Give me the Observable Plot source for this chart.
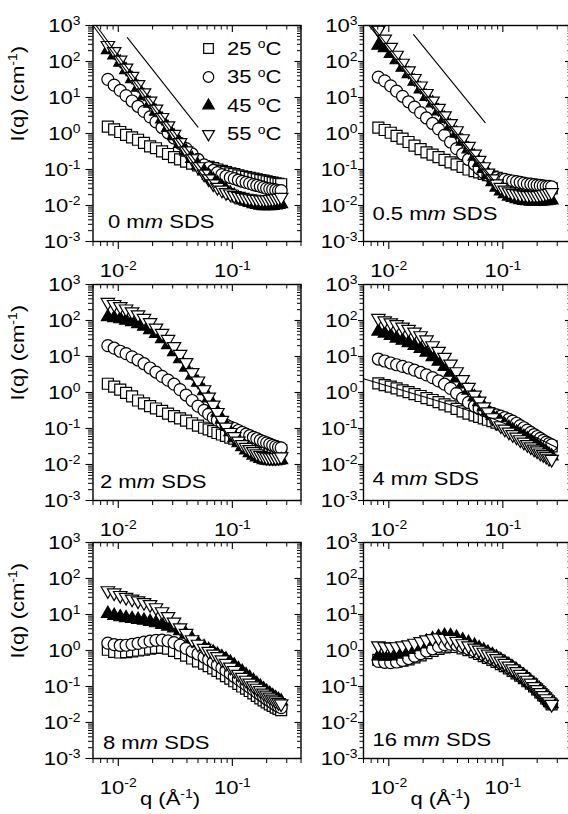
<!DOCTYPE html>
<html><head><meta charset="utf-8">
<script src="https://cdn.jsdelivr.net/npm/d3@7"></script>
<script src="https://cdn.jsdelivr.net/npm/@observablehq/plot@0.6"></script>
<style>
html,body{margin:0;padding:0;background:#fff;overflow:hidden;}
#fig{position:relative;width:568px;height:814px;overflow:hidden;background:#fff;}
</style></head><body><div id="fig"></div>
<script>
// ---------- data ----------
const q = [0.0081,0.0092,0.0104,0.0117,0.0132,0.0149,0.0168,0.019,0.0214,0.0242,0.0273,0.0308,0.0348,0.0393,0.0444,0.05,0.0565,0.062,0.068,0.074,0.081,0.088,0.096,0.104,0.113,0.122,0.132,0.142,0.153,0.164,0.176,0.188,0.2,0.213,0.226,0.24,0.254,0.268];

const seriesNames = ["25 ^{o}C", "35 ^{o}C", "45 ^{o}C", "55 ^{o}C"];
const panelLabels = ["0 m*m* SDS", "0.5 m*m* SDS", "2 m*m* SDS", "4 m*m* SDS", "8 m*m* SDS", "16 m*m* SDS"];

// 0 mM SDS
const I0_25 = [1.56,1.3,1.1,0.92,0.78,0.67,0.55,0.44,0.39,0.32,0.27,0.22,0.19,0.165,0.145,0.13,0.125,0.118,0.11,0.1,0.092,0.085,0.078,0.074,0.069,0.065,0.062,0.059,0.056,0.053,0.051,0.049,0.047,0.045,0.043,0.041,0.04,0.039];
const I0_35 = [32,22,15.7,11.3,8.0,5.7,4.1,2.9,2.1,1.47,1.05,0.75,0.53,0.38,0.27,0.19,0.135,0.112,0.094,0.082,0.072,0.065,0.06,0.056,0.051,0.047,0.044,0.041,0.038,0.036,0.034,0.032,0.03,0.029,0.028,0.027,0.026,0.026];
const I0_45 = [210,150,95,58,33,19,11,6.8,4.1,2.5,1.45,0.85,0.52,0.32,0.2,0.13,0.09,0.068,0.052,0.042,0.033,0.027,0.022,0.019,0.016,0.014,0.013,0.012,0.011,0.0105,0.01,0.0098,0.0097,0.0097,0.0099,0.0102,0.0106,0.011];
const I0_55 = [280,190,110,66,39,23,13.5,8,4.8,2.8,1.65,0.95,0.56,0.33,0.2,0.12,0.075,0.055,0.04,0.032,0.027,0.023,0.021,0.019,0.018,0.017,0.016,0.0155,0.015,0.0148,0.0145,0.0145,0.0145,0.0148,0.015,0.0155,0.016,0.017];
// 0.5 mM SDS
const I05_25 = [1.45,1.25,1.05,0.86,0.72,0.58,0.46,0.37,0.3,0.26,0.22,0.185,0.158,0.138,0.118,0.1,0.09,0.083,0.076,0.07,0.064,0.059,0.054,0.05,0.047,0.044,0.042,0.04,0.038,0.037,0.036,0.035,0.034,0.033,0.032,0.031,0.03,0.03];
const I05_35 = [37,29,21,15,10.8,7.6,5.4,3.8,2.7,1.9,1.35,0.9,0.58,0.38,0.27,0.19,0.14,0.105,0.082,0.07,0.063,0.059,0.055,0.053,0.05,0.048,0.046,0.044,0.042,0.04,0.039,0.038,0.037,0.036,0.035,0.034,0.034,0.033];
const I05_45 = [280,240,165,110,68,45,28,17,10.5,7,4.2,2.6,1.6,1.0,0.6,0.37,0.23,0.155,0.105,0.072,0.045,0.032,0.025,0.021,0.018,0.0165,0.0152,0.0143,0.0137,0.0133,0.013,0.013,0.013,0.013,0.0132,0.0135,0.0138,0.014];
const I05_55 = [750,420,250,150,90,55,34,21,13,8,5,3.1,1.9,1.2,0.72,0.44,0.27,0.18,0.12,0.08,0.055,0.04,0.032,0.027,0.024,0.022,0.021,0.02,0.0195,0.019,0.019,0.019,0.019,0.0195,0.02,0.021,0.022,0.023];
// 2 mM SDS
const I2_25 = [1.75,1.45,1.2,0.98,0.78,0.6,0.5,0.42,0.36,0.31,0.26,0.22,0.19,0.165,0.14,0.12,0.105,0.095,0.085,0.075,0.068,0.062,0.056,0.052,0.048,0.045,0.042,0.04,0.037,0.035,0.033,0.032,0.03,0.029,0.028,0.027,0.026,0.025];
const I2_35 = [20,17,14,12,9.8,8,6.3,4.8,3.7,2.8,2.2,1.7,1.2,0.85,0.6,0.42,0.32,0.25,0.2,0.17,0.145,0.125,0.11,0.1,0.088,0.078,0.07,0.063,0.057,0.052,0.047,0.043,0.04,0.037,0.034,0.032,0.03,0.029];
const I2_45 = [125,118,110,100,92,80,68,55,43,31,21,13.5,8.5,5,3,1.9,1.1,0.7,0.45,0.28,0.18,0.12,0.08,0.055,0.04,0.031,0.025,0.021,0.018,0.016,0.0145,0.0135,0.013,0.0125,0.0125,0.0125,0.013,0.0135];
const I2_55 = [320,280,245,210,175,145,115,88,62,44,30,19,11.5,6.8,3.6,2.1,1.2,0.75,0.45,0.28,0.17,0.11,0.078,0.06,0.045,0.036,0.03,0.026,0.023,0.02,0.018,0.017,0.016,0.0155,0.0155,0.0155,0.016,0.0165];
// 4 mM SDS
const I4_25 = [1.8,1.6,1.45,1.3,1.15,1.02,0.9,0.8,0.7,0.62,0.54,0.47,0.41,0.35,0.3,0.26,0.23,0.21,0.19,0.175,0.16,0.145,0.13,0.12,0.107,0.097,0.088,0.08,0.072,0.065,0.058,0.053,0.048,0.044,0.04,0.037,0.034,0.032];
const I4_35 = [8.5,7.5,6.6,5.9,5.3,4.8,4.2,3.6,3.1,2.6,2.1,1.7,1.3,0.95,0.7,0.53,0.42,0.36,0.32,0.29,0.26,0.24,0.22,0.2,0.18,0.16,0.14,0.12,0.105,0.09,0.078,0.068,0.06,0.053,0.047,0.042,0.038,0.035];
const I4_45 = [50,44,38,32,28,24,20,16.5,13,9.8,7.3,5.2,3.6,2.5,1.7,1.15,0.75,0.55,0.4,0.31,0.23,0.185,0.15,0.125,0.105,0.09,0.078,0.068,0.059,0.051,0.044,0.038,0.033,0.029,0.025,0.022,0.019,0.017];
const I4_55 = [115,98,87,77,66,57,48,38,29,20,14,9.5,6.2,3.8,2.3,1.4,0.85,0.58,0.4,0.29,0.2,0.15,0.12,0.097,0.08,0.068,0.058,0.049,0.042,0.036,0.031,0.027,0.024,0.021,0.019,0.017,0.015,0.014];
// 8 mM SDS
const I8_25 = [1.05,0.92,0.88,0.9,0.95,1.0,1.05,1.12,1.18,1.2,1.12,0.98,0.85,0.72,0.6,0.5,0.43,0.37,0.32,0.27,0.23,0.195,0.165,0.14,0.118,0.1,0.087,0.075,0.064,0.055,0.047,0.041,0.036,0.032,0.029,0.026,0.024,0.022];
const I8_35 = [1.6,1.45,1.38,1.4,1.48,1.58,1.7,1.82,1.92,1.95,1.85,1.65,1.4,1.15,0.95,0.8,0.66,0.56,0.47,0.4,0.33,0.28,0.23,0.19,0.16,0.135,0.113,0.096,0.082,0.07,0.06,0.052,0.045,0.04,0.035,0.031,0.028,0.026];
const I8_45 = [10.5,9.3,8.5,8,7.6,7.2,6.8,6.3,5.8,5.2,4.7,4.2,3.5,2.8,2.1,1.6,1.25,1.05,0.9,0.77,0.66,0.57,0.47,0.39,0.31,0.26,0.21,0.175,0.145,0.12,0.1,0.085,0.073,0.063,0.055,0.048,0.043,0.039];
const I8_55 = [46,40,34,30,27,24,21.5,19,15.5,12,8.8,6.2,4.3,3,2,1.5,1.15,0.95,0.8,0.68,0.55,0.44,0.35,0.28,0.22,0.18,0.15,0.125,0.105,0.09,0.077,0.066,0.058,0.051,0.045,0.04,0.036,0.033];
// 16 mM SDS
const I16_25 = [0.55,0.5,0.48,0.49,0.52,0.57,0.64,0.73,0.84,0.97,1.1,1.22,1.28,1.25,1.15,1.03,0.9,0.8,0.7,0.62,0.55,0.48,0.42,0.37,0.32,0.27,0.23,0.2,0.17,0.14,0.12,0.1,0.083,0.069,0.057,0.047,0.039,0.032];
const I16_35 = [0.5,0.47,0.46,0.48,0.53,0.6,0.7,0.82,0.97,1.12,1.3,1.45,1.5,1.42,1.28,1.12,0.98,0.86,0.76,0.67,0.59,0.52,0.45,0.39,0.33,0.28,0.24,0.2,0.17,0.14,0.12,0.1,0.083,0.069,0.057,0.047,0.039,0.033];
const I16_45 = [0.7,0.68,0.7,0.78,0.9,1.05,1.25,1.5,1.8,2.1,2.4,2.6,2.55,2.3,1.95,1.65,1.38,1.18,1.02,0.88,0.76,0.65,0.55,0.47,0.4,0.34,0.285,0.24,0.2,0.165,0.135,0.11,0.09,0.074,0.06,0.049,0.04,0.033];
const I16_55 = [1.35,1.28,1.25,1.28,1.35,1.45,1.6,1.78,1.98,2.15,2.25,2.2,2.05,1.8,1.55,1.35,1.17,1.03,0.9,0.8,0.7,0.6,0.51,0.44,0.37,0.31,0.26,0.22,0.18,0.15,0.125,0.1,0.083,0.068,0.056,0.046,0.038,0.032];

// fit / guide lines [q, I]
const fit_0a = [[0.006,1000],[0.066,0.03]];
const fit_0b = [[0.0064,1000],[0.07,0.032]];
const guide_0 = [[0.012,460],[0.05,1.5]];
const fit_05a = [[0.0067,1000],[0.08,0.05]];
const fit_05b = [[0.0071,1000],[0.083,0.05]];
const guide_05 = [[0.0165,560],[0.07,2]];
const fit_4 = [[0.006,2.4],[0.0107,1.4],[0.021,0.74],[0.041,0.39],[0.081,0.19],[0.158,0.079],[0.3,0.029]];

// axes
const xMajor = [0.01, 0.1];
const xTickLabels = ["10^{-2}", "10^{-1}"];
const xMinor = [0.006,0.007,0.008,0.009,0.02,0.03,0.04,0.05,0.06,0.07,0.08,0.09,0.2,0.3,0.4];
const yMajor = [1e-3,1e-2,1e-1,1,10,100,1000];
const yTickLabels = ["10^{-3}","10^{-2}","10^{-1}","10^{0}","10^{1}","10^{2}","10^{3}"];
const yMinor = [];
for (const e of [-3,-2,-1,0,1,2]) for (let m = 2; m <= 9; m++) yMinor.push(m * Math.pow(10, e));
const yTitle = "I(q) (cm^{-1})";
const xTitle = "q (Å^{-1})";

// ---------- layout / style ----------
const FONT = "Liberation Sans, Arial, Helvetica, sans-serif";
const FS = 19;
const SX = 1.16;
const W = 208, H = 216;
const colL = [92.5, 362.5];
const rowT = [25, 284, 542];

const symDown = {
  draw(ctx, size) {
    const s3 = Math.sqrt(3);
    const y = Math.sqrt(size / (s3 * 3));
    ctx.moveTo(0, 2 * y);
    ctx.lineTo(-s3 * y, -y);
    ctx.lineTo(s3 * y, -y);
    ctx.closePath();
  }
};
const styles = [
  {symbol: "square", fill: "white", r: 6.2},
  {symbol: "circle", fill: "white", r: 6.0},
  {symbol: "triangle", fill: "black", r: 4.8},
  {symbol: symDown, fill: "white", r: 5.0}
];

const panels = [
  {data: [I0_25, I0_35, I0_45, I0_55], lines: [fit_0a, fit_0b, guide_0], legend: true, ldx: 15, ldy: -19.5},
  {data: [I05_25, I05_35, I05_45, I05_55], lines: [fit_05a, fit_05b, guide_05], ldx: 9, ldy: -27.5},
  {data: [I2_25, I2_35, I2_45, I2_55], lines: [], ldx: 7, ldy: -19},
  {data: [I4_25, I4_35, I4_45, I4_55], lines: [fit_4], ldx: 9, ldy: -21.5},
  {data: [I8_25, I8_35, I8_45, I8_55], lines: [], ldx: 10, ldy: -16},
  {data: [I16_25, I16_35, I16_45, I16_55], lines: [], ldx: 9, ldy: -19}
];

function esc(s){return s.replace(/&/g,"&amp;").replace(/</g,"&lt;");}
function richify(str){
  let out = "", raised = false;
  const parts = str.split(/(\^\{[^}]*\}|\*[^*]*\*)/);
  for (const p of parts) {
    if (!p) continue;
    if (p.startsWith("^{")) { out += `<tspan dy="-6.5" font-size="12">${esc(p.slice(2,-1))}</tspan>`; raised = true; }
    else if (p.startsWith("*")) { out += `<tspan font-style="italic"${raised ? ' dy="6.5"' : ''}>${esc(p.slice(1,-1))}</tspan>`; raised = false; }
    else { out += raised ? `<tspan dy="6.5">${esc(p)}</tspan>` : esc(p); raised = false; }
  }
  return out;
}
function stretch(el){
  const t = el.getAttribute("transform") || "";
  const num = /^-?\d*\.?\d+(e-?\d+)?$/;
  const xa = el.getAttribute("x"), ya = el.getAttribute("y");
  let tx = 0, ty = 0;
  if (xa && num.test(xa)) { tx = +xa; el.removeAttribute("x"); }
  if (ya && num.test(ya)) { ty = +ya; el.removeAttribute("y"); }
  const extra = (tx || ty) ? ` translate(${tx},${ty})` : "";
  el.setAttribute("transform", `${t}${extra} scale(${SX},1)`);
}

const fig = document.getElementById("fig");
const txt = {fontSize: FS, fontFamily: FONT, fill: "black", lineAnchor: "middle"};

panels.forEach((p, i) => {
  const col = i % 2, row = Math.floor(i / 2);
  const ml = col === 0 ? 92.5 : 70, mr = 12, mt = 8, mb = row === 2 ? 64 : 42;
  const majL = col === 0 ? 7 : 5, minL = col === 0 ? 4.5 : 3.5;
  const marks = [];
  p.data.forEach((vals, k) => {
    const rows = q.map((qq, j) => ({q: qq, I: vals[j]}));
    const st = styles[k];
    marks.push(Plot.dot(rows, {x: "q", y: "I", symbol: st.symbol, r: st.r, fill: st.fill, stroke: "black", strokeWidth: 1.2}));
  });
  p.lines.forEach(ln => marks.push(Plot.line(ln, {x: d => d[0], y: d => d[1], stroke: "black", strokeWidth: 1.1})));
  marks.push(Plot.frame({stroke: "black", strokeWidth: 1.4}));
  // ticks
  marks.push(Plot.tickY(yMajor, {y: d => d, insetLeft: -majL, insetRight: W, stroke: "black", strokeWidth: 1.1}));
  marks.push(Plot.tickY(yMinor, {y: d => d, insetLeft: -minL, insetRight: W, stroke: "black"}));
  marks.push(Plot.tickY(yMajor, {y: d => d, insetLeft: W - 6, stroke: "black", strokeWidth: 1.1}));
  marks.push(Plot.tickY(yMinor, {y: d => d, insetLeft: W - 3.5, stroke: "black"}));
  marks.push(Plot.tickX(xMajor, {x: d => d, insetTop: H, insetBottom: -8, stroke: "black", strokeWidth: 1.1}));
  marks.push(Plot.tickX(xMinor, {x: d => d, insetTop: H, insetBottom: -5, stroke: "black"}));
  marks.push(Plot.tickX(xMajor, {x: d => d, insetBottom: H - 7, stroke: "black", strokeWidth: 1.1}));
  marks.push(Plot.tickX(xMinor, {x: d => d, insetBottom: H - 4.5, stroke: "black"}));
  // tick labels
  marks.push(Plot.text(xMajor, {x: d => d, text: (d, j) => xTickLabels[j], frameAnchor: "bottom", dy: 29, ...txt}));
  marks.push(Plot.text(yMajor, {y: d => d, text: (d, j) => yTickLabels[j], frameAnchor: "left", textAnchor: "end", dx: col === 0 ? -12.5 : -6, ...txt}));
  // panel label
  marks.push(Plot.text([panelLabels[i]], {text: d => d, frameAnchor: "bottom-left", textAnchor: "start", dx: p.ldx, dy: p.ldy, ...txt}));
  // legend
  if (p.legend) {
    const legY = [23, 51.5, 80, 108.5];
    styles.forEach((st, k) => {
      marks.push(Plot.dot([seriesNames[k]], {frameAnchor: "top-left", dx: 115.5, dy: legY[k], symbol: st.symbol, r: st.r * 0.88, fill: st.fill, stroke: "black", strokeWidth: 1.2}));
      marks.push(Plot.text([seriesNames[k]], {text: d => d, frameAnchor: "top-left", textAnchor: "start", dx: 134, dy: legY[k], ...txt}));
    });
  }
  if (col === 0) marks.push(Plot.text([yTitle], {text: d => d, frameAnchor: "left", rotate: -90, dx: -75.5, dy: 8, ...txt}));
  if (row === 2) marks.push(Plot.text([xTitle], {text: d => d, frameAnchor: "bottom", dx: -27, dy: 40, ...txt}));

  const svg = Plot.plot({
    width: ml + W + mr, height: mt + H + mb,
    marginLeft: ml, marginRight: mr, marginTop: mt, marginBottom: mb,
    x: {type: "log", domain: [0.006, 0.4], axis: null},
    y: {type: "log", domain: [1e-3, 1e3], axis: null},
    marks
  });
  svg.querySelectorAll("text").forEach(el => {
    const s = el.textContent;
    if (/[\^*]/.test(s)) el.innerHTML = richify(s);
    stretch(el);
  });
  svg.setAttribute("font-family", FONT);
  svg.style.position = "absolute";
  svg.style.left = (colL[col] - ml) + "px";
  svg.style.top = (rowT[row] - mt) + "px";
  svg.style.background = "transparent";
  svg.style.overflow = "visible";
  svg.style.maxWidth = "none";
  fig.appendChild(svg);
});
</script>
</body></html>
